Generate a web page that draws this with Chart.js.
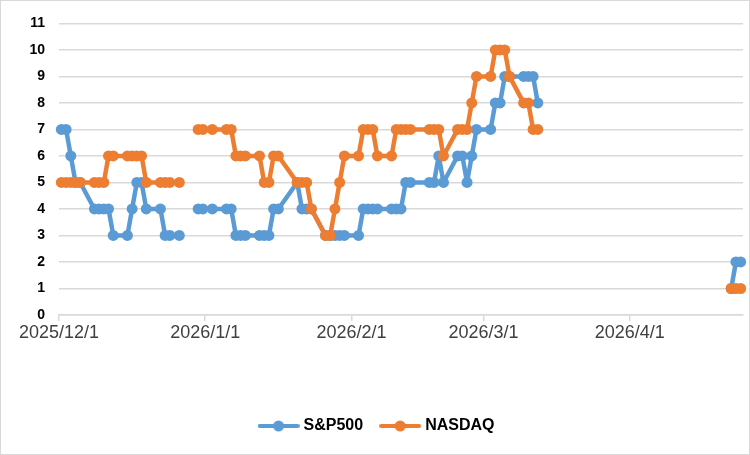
<!DOCTYPE html>
<html>
<head>
<meta charset="utf-8">
<script src="https://cdn.jsdelivr.net/npm/chart.js@4.4.1/dist/chart.umd.min.js"></script>
<style>
  html, body { margin: 0; padding: 0; background: #fff; }
  #wrap { position: relative; width: 750px; height: 455px; box-sizing: border-box; border: 1px solid #d9d9d9; }
  canvas { display: block; }
</style>
</head>
<body>
<div id="wrap"><canvas id="c" width="748" height="453"></canvas></div>
<script>
// ---- data ----
const seriesNames = ['S&P500', 'NASDAQ'];
const dates = [
  '2025-12-01','2025-12-02','2025-12-03','2025-12-04','2025-12-05',
  '2025-12-08','2025-12-09','2025-12-10','2025-12-11','2025-12-12',
  '2025-12-15','2025-12-16','2025-12-17','2025-12-18','2025-12-19',
  '2025-12-22','2025-12-23','2025-12-24','2025-12-26',
  '2025-12-29',
  '2025-12-30','2025-12-31','2026-01-02',
  '2026-01-05','2026-01-06','2026-01-07','2026-01-08','2026-01-09',
  '2026-01-12','2026-01-13','2026-01-14','2026-01-15','2026-01-16',
  '2026-01-20','2026-01-21','2026-01-22','2026-01-23',
  '2026-01-26','2026-01-27','2026-01-28','2026-01-29','2026-01-30',
  '2026-02-02','2026-02-03','2026-02-04','2026-02-05','2026-02-06',
  '2026-02-09','2026-02-10','2026-02-11','2026-02-12','2026-02-13',
  '2026-02-17','2026-02-18','2026-02-19','2026-02-20',
  '2026-02-23','2026-02-24','2026-02-25','2026-02-26','2026-02-27',
  '2026-03-02','2026-03-03','2026-03-04','2026-03-05','2026-03-06',
  '2026-03-09','2026-03-10','2026-03-11','2026-03-12',
  '2026-03-13',
  '2026-04-22','2026-04-23','2026-04-24'
];
const sp500 = [
  7,7,6,5,5,
  4,4,4,4,3,
  3,4,5,5,4,
  4,3,3,3,
  null,
  4,4,4,
  4,4,3,3,3,
  3,3,3,4,4,
  5,4,4,4,
  3,3,3,3,3,
  3,4,4,4,4,
  4,4,4,5,5,
  5,5,6,5,
  6,6,5,6,7,
  7,8,8,9,9,
  9,9,9,8,
  null,
  1,2,2
];
const nasdaq = [
  5,5,5,5,5,
  5,5,5,6,6,
  6,6,6,6,5,
  5,5,5,5,
  null,
  7,7,7,
  7,7,6,6,6,
  6,5,5,6,6,
  5,5,5,4,
  3,3,4,5,6,
  6,7,7,7,6,
  6,7,7,7,7,
  7,7,7,6,
  7,7,7,8,9,
  9,10,10,10,9,
  8,8,7,7,
  null,
  1,1,1
];
const xTickDates = ['2025-12-01','2026-01-01','2026-02-01','2026-03-01','2026-04-01'];
const xTickLabels = ['2025/12/1','2026/1/1','2026/2/1','2026/3/1','2026/4/1'];
const xEndDate = '2026-04-25';
const yMin = 0, yMax = 11;

// ---- helpers ----
const DAY = 86400000;
const base = Date.UTC(2025, 11, 1);
function dayOf(s) { const p = s.split('-').map(Number); return Math.round((Date.UTC(p[0], p[1]-1, p[2]) - base) / DAY); }
function pts(vals) { return dates.map((d, i) => ({ x: dayOf(d) + 0.5, y: vals[i] })); }
const tickDays = xTickDates.map(dayOf);

const BLUE = '#5B9BD5', ORANGE = '#ED7D31';

function legendIcon(color) {
  const c = document.createElement('canvas');
  c.width = 42; c.height = 14;
  const g = c.getContext('2d');
  g.strokeStyle = color; g.lineWidth = 4; g.lineCap = 'round';
  g.beginPath(); g.moveTo(2, 7); g.lineTo(40, 7); g.stroke();
  g.fillStyle = color; g.beginPath(); g.arc(21, 7, 5.5, 0, Math.PI * 2); g.fill();
  return c;
}
const icons = [legendIcon(BLUE), legendIcon(ORANGE)];

const legendShift = {
  id: 'legendShift',
  afterLayout(chart) { if (chart.legend) { chart.legend.left += 6; chart.legend.right += 6; } }
};

new Chart(document.getElementById('c'), {
  type: 'line',
  data: {
    datasets: [
      { label: seriesNames[0], data: pts(sp500), borderColor: BLUE, backgroundColor: BLUE, order: 2, clip: false,
        borderWidth: 4.5, borderJoinStyle: 'round', borderCapStyle: 'round',
        pointRadius: 5.5, pointBackgroundColor: BLUE, pointBorderColor: BLUE, pointBorderWidth: 0,
        spanGaps: false, tension: 0 },
      { label: seriesNames[1], data: pts(nasdaq), borderColor: ORANGE, backgroundColor: ORANGE, order: 1, clip: false,
        borderWidth: 4.5, borderJoinStyle: 'round', borderCapStyle: 'round',
        pointRadius: 5.5, pointBackgroundColor: ORANGE, pointBorderColor: ORANGE, pointBorderWidth: 0,
        spanGaps: false, tension: 0 }
    ]
  },
  plugins: [legendShift],
  options: {
    responsive: false,
    animation: false,
    devicePixelRatio: 1,
    layout: { padding: { left: 0, right: 6, top: 22, bottom: 10 } },
    plugins: {
      tooltip: { enabled: false },
      legend: {
        position: 'bottom',
        labels: {
          usePointStyle: true,
          pointStyleWidth: 34,
          color: '#404040',
          font: { family: 'Liberation Sans', size: 16, weight: 'bold' },
          padding: 20,
          generateLabels(chart) {
            return chart.data.datasets.map((ds, i) => ({
              text: ds.label, fillStyle: ds.borderColor, strokeStyle: ds.borderColor,
              pointStyle: icons[i], datasetIndex: i, hidden: false, lineWidth: 0
            }));
          }
        }
      }
    },
    scales: {
      x: {
        type: 'linear',
        min: dayOf(xTickDates[0]),
        max: dayOf(xEndDate),
        afterBuildTicks(scale) { scale.ticks = tickDays.map(v => ({ value: v })); },
        afterFit(scale) { scale.height = 83; },
        ticks: {
          autoSkip: false, maxRotation: 0, padding: 1,
          color: '#404040',
          font: { family: 'Liberation Sans', size: 18 },
          callback(v) { const i = tickDays.indexOf(v); return i >= 0 ? xTickLabels[i] : ''; }
        },
        grid: { drawOnChartArea: false, drawTicks: true, tickLength: 6, color: '#d9d9d9', lineWidth: 1.5 },
        border: { display: true, color: '#d9d9d9', width: 1.5 }
      },
      y: {
        min: yMin, max: yMax,
        afterFit(scale) { scale.width = 58; },
        ticks: { stepSize: 1, padding: 14, color: '#000',
          font: { family: 'Liberation Sans', size: 14, weight: 'bold' } },
        grid: { color: '#d9d9d9', lineWidth: 1.5, drawTicks: false },
        border: { display: false }
      }
    }
  }
});
</script>
</body>
</html>
